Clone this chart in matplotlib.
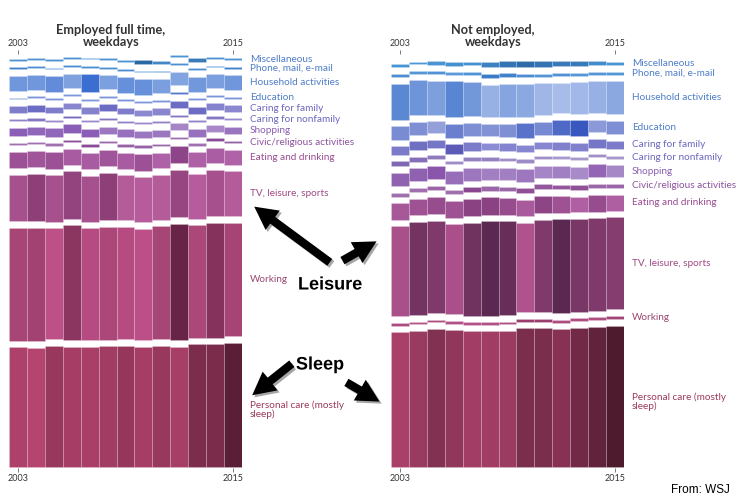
import matplotlib
matplotlib.use("Agg")
import matplotlib.pyplot as plt
import matplotlib.patheffects as pe
import numpy as np
from matplotlib.colors import to_rgb
from matplotlib.patches import FancyArrowPatch

plt.rcParams["font.family"] = ["Lato", "DejaVu Sans"]

years = list(range(2003, 2016))

# categories, stacked bottom -> top
categories = [
    "Personal care (mostly\nsleep)", "Working", "TV, leisure, sports",
    "Eating and drinking", "Civic/religious activities", "Shopping",
    "Caring for nonfamily", "Caring for family", "Education",
    "Household activities", "Phone, mail, e-mail", "Miscellaneous",
]

# hours per day, employed full time, weekdays
emp_personal = [8.55, 8.50, 8.66, 8.60, 8.58, 8.62, 8.67, 8.60, 8.66, 8.59, 8.76, 8.77, 8.88]
emp_working = [8.07, 8.10, 7.93, 8.20, 8.00, 8.05, 8.00, 7.95, 8.07, 8.33, 8.05, 8.22, 8.08]
emp_tv = [3.30, 3.40, 3.30, 3.38, 3.30, 3.40, 3.22, 3.20, 3.22, 3.36, 3.20, 3.30, 3.22]
emp_eating = [1.19, 1.17, 1.19, 1.12, 1.12, 1.17, 1.12, 1.19, 1.07, 1.26, 1.07, 1.10, 1.05]
emp_civic = [0.16, 0.16, 0.16, 0.20, 0.20, 0.17, 0.18, 0.18, 0.17, 0.16, 0.16, 0.20, 0.18]
emp_shopping = [0.62, 0.60, 0.60, 0.62, 0.62, 0.55, 0.57, 0.55, 0.55, 0.50, 0.57, 0.48, 0.56]
emp_nonfamily = [0.14, 0.15, 0.13, 0.16, 0.13, 0.15, 0.14, 0.13, 0.14, 0.15, 0.14, 0.15, 0.13]
emp_family = [0.47, 0.50, 0.47, 0.45, 0.46, 0.50, 0.47, 0.44, 0.45, 0.50, 0.50, 0.46, 0.44]
emp_education = [0.13, 0.13, 0.13, 0.12, 0.12, 0.13, 0.13, 0.12, 0.13, 0.19, 0.13, 0.13, 0.13]
emp_household = [1.08, 1.08, 1.14, 1.00, 1.29, 1.02, 1.12, 1.12, 1.03, 0.97, 1.07, 1.03, 1.08]
emp_phone = [0.14, 0.13, 0.12, 0.13, 0.13, 0.13, 0.13, 0.12, 0.13, 0.13, 0.13, 0.13, 0.14]
emp_misc = [0.12, 0.12, 0.12, 0.12, 0.12, 0.12, 0.12, 0.31, 0.19, 0.12, 0.24, 0.12, 0.12]

# hours per day, not employed, weekdays
nemp_personal = [9.62, 9.74, 9.86, 9.78, 9.68, 9.69, 9.72, 9.90, 9.90, 9.84, 9.95, 10.02, 10.10]
nemp_working = [0.20, 0.18, 0.20, 0.19, 0.18, 0.19, 0.20, 0.23, 0.23, 0.20, 0.20, 0.20, 0.22]
nemp_tv = [6.43, 6.64, 6.60, 6.42, 6.65, 6.72, 6.68, 6.38, 6.60, 6.72, 6.62, 6.60, 6.58]
nemp_eating = [1.18, 1.20, 1.22, 1.20, 1.25, 1.25, 1.22, 1.17, 1.24, 1.20, 1.14, 1.22, 1.15]
nemp_civic = [0.29, 0.29, 0.31, 0.29, 0.35, 0.31, 0.31, 0.34, 0.33, 0.33, 0.34, 0.31, 0.31]
nemp_shopping = [0.95, 0.95, 0.97, 0.92, 0.90, 0.88, 0.88, 0.90, 0.86, 0.88, 0.84, 0.94, 0.85]
nemp_nonfamily = [0.36, 0.34, 0.31, 0.25, 0.29, 0.29, 0.24, 0.26, 0.24, 0.20, 0.20, 0.24, 0.21]
nemp_family = [0.60, 0.64, 0.62, 0.70, 0.60, 0.52, 0.57, 0.55, 0.55, 0.58, 0.58, 0.62, 0.60]
nemp_education = [0.95, 0.93, 0.83, 1.00, 0.93, 0.92, 0.93, 1.05, 0.96, 1.08, 1.14, 0.88, 0.93]
nemp_household = [2.55, 2.48, 2.42, 2.56, 2.46, 2.30, 2.38, 2.36, 2.26, 2.19, 2.24, 2.30, 2.36]
nemp_phone = [0.24, 0.20, 0.22, 0.17, 0.22, 0.30, 0.28, 0.24, 0.20, 0.22, 0.20, 0.20, 0.20]
nemp_misc = [0.24, 0.20, 0.24, 0.27, 0.27, 0.36, 0.43, 0.48, 0.43, 0.40, 0.40, 0.30, 0.24]

employed = [emp_personal, emp_working, emp_tv, emp_eating, emp_civic, emp_shopping,
            emp_nonfamily, emp_family, emp_education, emp_household, emp_phone, emp_misc]
not_employed = [nemp_personal, nemp_working, nemp_tv, nemp_eating, nemp_civic, nemp_shopping,
                nemp_nonfamily, nemp_family, nemp_education, nemp_household, nemp_phone, nemp_misc]

# colour ramps per panel (low value -> high value)
emp_light = ["#b5446f", "#be5088", "#b65c9c", "#b062a8", "#a070b0", "#a888c8",
             "#9c8acc", "#8c88d0", "#7e98dc", "#82a4e0", "#5a9ada", "#4d93d3"]
emp_dark = ["#5a1e36", "#682446", "#8e3f78", "#8e4488", "#8a4c98", "#8a5eb6",
            "#7468bc", "#6c6cc4", "#5478cc", "#3a6ed0", "#3c80ca", "#2a68a2"]
nemp_light = ["#a8406a", "#b5548a", "#b0528e", "#b060a2", "#a070ae", "#a88ac8",
              "#a898cc", "#8c8cd4", "#94a0da", "#a8bcea", "#5a9ada", "#4a98d8"]
nemp_dark = ["#4e1a2e", "#9a3e6e", "#5a2850", "#8a4282", "#8a4890", "#8a56ac",
             "#7e68b4", "#5c5cb8", "#3858c0", "#5886d2", "#3a7cc8", "#2e6aa8"]
label_colors = ["#9b3a5e", "#9b4773", "#9e4a82", "#9a4b91", "#8c539e", "#8a5fb2",
                "#6b67bf", "#6b67bf", "#4e7dc9", "#4e7dc9", "#4e7dc9", "#4e7dc9"]

GAP = 0.47

fig = plt.figure(figsize=(7.42, 5.03), dpi=100)
W, H = 742, 503


def panel(x0, values, light, dark, title, title_x):
    ax = fig.add_axes([x0 / W, 35 / H, 233 / W, 414 / H])
    x = np.arange(len(years))
    bottom = np.zeros(len(years))
    for i, vals in enumerate(values):
        v = np.array(vals)
        t = ((v - v.min()) / (v.max() - v.min())) ** 1.3
        c0, c1 = np.array(to_rgb(light[i])), np.array(to_rgb(dark[i]))
        cols = [tuple(c0 + (c1 - c0) * ti) for ti in t]
        ax.bar(x, v, bottom=bottom, width=1.0, color=cols,
               edgecolor=(1, 1, 1, 0.3), linewidth=0.4)
        yc = bottom[-1] + v[-1] / 2
        two_lines = "\n" in categories[i]
        ax.annotate(categories[i], xy=(1, yc), xycoords=("axes fraction", "data"),
                    xytext=(5.5, -3.6 if two_lines else 0), textcoords="offset points",
                    ha="left", va="center", fontsize=7.2, color=label_colors[i],
                    linespacing=0.95, annotation_clip=False)
        bottom = bottom + v + GAP
    ax.set_xlim(-0.5, len(years) - 0.5)
    ax.set_ylim(-0.07, 29.5)
    for s in ax.spines.values():
        s.set_visible(False)
    ax.set_yticks([])
    ax.set_xticks([0, len(years) - 1], [str(years[0]), str(years[-1])])
    ax.tick_params(axis="x", top=True, labeltop=True, bottom=True, labelbottom=True,
                   length=3, width=0.6, color="#666666", labelsize=6.5,
                   labelcolor="#333333", pad=1.5)
    fig.text(title_x / W, 1 - 36 / H, title, ha="center", va="center",
             fontsize=9.2, fontweight="bold", color="#333333", linespacing=1.1)
    return ax


panel(9, employed, emp_light, emp_dark, "Employed full time,\nweekdays", 111)
panel(391, not_employed, nemp_light, nemp_dark, "Not employed,\nweekdays", 493)

# annotation overlay in pixel coordinates
ov = fig.add_axes([0, 0, 1, 1])
ov.set_xlim(0, W)
ov.set_ylim(H, 0)
ov.axis("off")

arrows = [((332, 264), (252, 205)), ((340, 262), (379, 240)),
          ((294, 362), (250, 397)), ((344, 381), (382, 403))]
for tail, head in arrows:
    ov.add_patch(FancyArrowPatch(
        tail, head, arrowstyle="simple,head_length=1.1,head_width=1.15,tail_width=0.4",
        mutation_scale=15, color="black", lw=0,
        path_effects=[pe.SimplePatchShadow(offset=(1.5, -1.5), alpha=0.35), pe.Normal()]))

for txt, (tx, ty) in [("Leisure", (330, 285)), ("Sleep", (320, 365))]:
    ov.text(tx, ty, txt, ha="center", va="center", fontsize=13, fontweight="bold",
            family="Liberation Sans", color="black",
            path_effects=[pe.withStroke(linewidth=3, foreground="white")])

ov.text(700, 490, "From: WSJ", ha="center", va="center", fontsize=8.5,
        family="Liberation Sans", color="black")

fig.savefig("out.png", dpi=100)
